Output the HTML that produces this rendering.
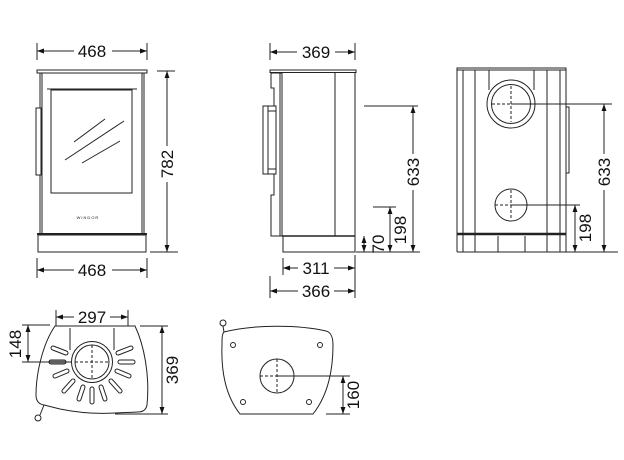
<!DOCTYPE html>
<html><head><meta charset="utf-8"><style>
html,body{margin:0;padding:0;background:#fff;}
svg{display:block;}
text{font-family:"Liberation Sans",sans-serif;font-size:17px;fill:#111;}
</style></head><body>
<svg width="624" height="460" viewBox="0 0 624 460" xmlns="http://www.w3.org/2000/svg">
<defs>
<marker id="a" viewBox="0 0 10 10" refX="10" refY="5" markerWidth="7" markerHeight="7" orient="auto-start-reverse" markerUnits="userSpaceOnUse"><path d="M0,1.5 L10,5 L0,8.5 z" fill="#111"/></marker>
</defs>
<g stroke="#222" stroke-width="1" fill="none">
<!-- FRONT VIEW -->
<line x1="37" y1="43" x2="37" y2="60"/><line x1="147" y1="43" x2="147" y2="60"/>
<line x1="37" y1="51" x2="74" y2="51" marker-start="url(#a)"/><line x1="112" y1="51" x2="147" y2="51" marker-end="url(#a)"/>
<rect x="37" y="70" width="110" height="3"/>
<line x1="40" y1="73" x2="40" y2="234"/><line x1="42" y1="73" x2="42" y2="234"/>
<line x1="144" y1="73" x2="144" y2="234"/><line x1="142" y1="73" x2="142" y2="234"/>
<rect x="36" y="108" width="5" height="67" fill="#fff"/>
<line x1="47" y1="89" x2="137" y2="89"/>
<rect x="51" y="90" width="81" height="103"/>
<line x1="74" y1="142" x2="105" y2="119"/><line x1="65" y1="160" x2="124" y2="121"/><line x1="82" y1="163" x2="120" y2="141"/>
<line x1="37" y1="234" x2="147" y2="234" stroke-width="2"/>
<rect x="38" y="235" width="108" height="17"/>
<line x1="157" y1="71" x2="175" y2="71"/><line x1="150" y1="252" x2="178" y2="252"/>
<line x1="167" y1="71" x2="167" y2="146" marker-start="url(#a)"/><line x1="167" y1="182" x2="167" y2="252" marker-end="url(#a)"/>
<line x1="37" y1="258" x2="37" y2="278"/><line x1="147" y1="258" x2="147" y2="278"/>
<line x1="37" y1="270" x2="74" y2="270" marker-start="url(#a)"/><line x1="112" y1="270" x2="147" y2="270" marker-end="url(#a)"/>

<!-- SIDE VIEW -->
<line x1="270" y1="43" x2="270" y2="60"/><line x1="355" y1="43" x2="355" y2="60"/>
<line x1="270" y1="52" x2="297" y2="52" marker-start="url(#a)"/><line x1="335" y1="52" x2="355" y2="52" marker-end="url(#a)"/>
<rect x="270" y="70" width="86" height="2.5"/>
<path d="M282,73 L271,73 L271,88 L274,88 L274,195 L271,195 L271,236 L282,236"/>
<line x1="280" y1="73" x2="280" y2="236"/><line x1="282" y1="73" x2="282" y2="236"/>
<rect x="263" y="106" width="13" height="68" fill="#fff"/><line x1="268" y1="106" x2="268" y2="174"/>
<line x1="268" y1="111" x2="276" y2="111"/><line x1="268" y1="169" x2="276" y2="169"/>
<line x1="355" y1="72" x2="355" y2="236"/><line x1="335" y1="72" x2="335" y2="236"/>
<line x1="282" y1="236" x2="355" y2="236" stroke-width="1.5"/>
<rect x="283" y="236" width="72" height="16"/>
<line x1="364" y1="106" x2="418" y2="106"/>
<line x1="413" y1="106" x2="413" y2="154" marker-start="url(#a)"/><line x1="413" y1="190" x2="413" y2="252" marker-end="url(#a)"/>
<line x1="373" y1="207" x2="396" y2="207"/>
<line x1="390" y1="207" x2="390" y2="252" marker-start="url(#a)" marker-end="url(#a)"/>
<line x1="364" y1="236" x2="364" y2="252" marker-start="url(#a)" marker-end="url(#a)"/>
<line x1="356" y1="252" x2="420" y2="252"/>
<line x1="283" y1="258" x2="283" y2="275"/><line x1="355" y1="255" x2="355" y2="298"/>
<line x1="283" y1="268" x2="298" y2="268" marker-start="url(#a)"/><line x1="334" y1="268" x2="355" y2="268" marker-end="url(#a)"/>
<line x1="270" y1="276" x2="270" y2="298"/>
<line x1="270" y1="291" x2="298" y2="291" marker-start="url(#a)"/><line x1="334" y1="291" x2="355" y2="291" marker-end="url(#a)"/>

<!-- BACK VIEW -->
<rect x="457" y="68" width="109" height="2"/>
<line x1="457" y1="70" x2="457" y2="252"/><line x1="566" y1="70" x2="566" y2="252"/>
<line x1="463" y1="70" x2="463" y2="252"/><line x1="475" y1="70" x2="475" y2="252"/>
<line x1="547" y1="70" x2="547" y2="252"/><line x1="560" y1="70" x2="560" y2="252"/>
<line x1="489" y1="70" x2="489" y2="90"/><line x1="534" y1="70" x2="534" y2="90"/>
<circle cx="511" cy="104" r="24" fill="#fff"/><circle cx="511" cy="104" r="19.5"/>
<circle cx="511" cy="205" r="16" fill="#fff"/>
<line x1="457" y1="234" x2="566" y2="234" stroke-width="2.5"/>
<line x1="457" y1="252" x2="566" y2="252"/>
<line x1="498" y1="236" x2="498" y2="252"/><line x1="525" y1="236" x2="525" y2="252"/>
<rect x="566" y="107" width="3" height="66" fill="#fff"/>
<g stroke-dasharray="3,2"><line x1="492" y1="104" x2="511" y2="104"/><line x1="511" y1="86" x2="511" y2="122"/><line x1="495" y1="205" x2="511" y2="205"/><line x1="511" y1="190" x2="511" y2="220"/></g>
<line x1="511" y1="104" x2="612" y2="104"/><line x1="511" y1="205" x2="580" y2="205"/>
<line x1="604" y1="104" x2="604" y2="154" marker-start="url(#a)"/><line x1="604" y1="190" x2="604" y2="252" marker-end="url(#a)"/>
<line x1="575" y1="205" x2="575" y2="252" marker-start="url(#a)" marker-end="url(#a)"/>
<line x1="566" y1="252" x2="618" y2="252"/>

<!-- PLAN LEFT -->
<line x1="56" y1="310" x2="56" y2="326"/><line x1="128" y1="310" x2="128" y2="326"/>
<line x1="56" y1="317" x2="74" y2="317" marker-start="url(#a)"/><line x1="110" y1="317" x2="128" y2="317" marker-end="url(#a)"/>
<path d="M55,326 L135,326 C144,345 150,375 147,405 C146,410 143,412 138,412 L115,413 C100,414 80,413 60,409 L44,405 C38,404 36,400 36,395 C36,375 42,345 55,326 Z"/>
<path d="M44,405 L40,415"/><circle cx="38" cy="418" r="3"/>
<line x1="70" y1="328" x2="70" y2="350"/><line x1="114" y1="328" x2="114" y2="350"/>
<circle cx="92" cy="362" r="20.5"/><circle cx="92" cy="362" r="17"/>
<g stroke-dasharray="3,2"><line x1="75" y1="362" x2="109" y2="362"/><line x1="92" y1="345" x2="92" y2="379"/></g>
<g stroke-linecap="round">
<g stroke="#222" stroke-width="5">
<line x1="118" y1="353" x2="131" y2="348"/><line x1="120" y1="362" x2="133" y2="362"/><line x1="117" y1="371" x2="129" y2="376"/><line x1="111" y1="381" x2="120" y2="391"/><line x1="101" y1="387" x2="105" y2="399"/><line x1="92" y1="389" x2="92" y2="402"/><line x1="83" y1="387" x2="79" y2="399"/><line x1="73" y1="381" x2="64" y2="391"/><line x1="67" y1="371" x2="55" y2="376"/><line x1="64" y1="362" x2="51" y2="362"/><line x1="66" y1="353" x2="53" y2="348"/>
</g>
<g stroke="#fff" stroke-width="3">
<line x1="118" y1="353" x2="131" y2="348"/><line x1="120" y1="362" x2="133" y2="362"/><line x1="117" y1="371" x2="129" y2="376"/><line x1="111" y1="381" x2="120" y2="391"/><line x1="101" y1="387" x2="105" y2="399"/><line x1="92" y1="389" x2="92" y2="402"/><line x1="83" y1="387" x2="79" y2="399"/><line x1="73" y1="381" x2="64" y2="391"/><line x1="67" y1="371" x2="55" y2="376"/><line x1="66" y1="353" x2="53" y2="348"/>
</g>
<line x1="64" y1="362" x2="51" y2="362" stroke="#999" stroke-width="3"/>
</g>
<line x1="22" y1="325" x2="50" y2="325"/><line x1="22" y1="362" x2="72" y2="362"/>
<line x1="28" y1="325" x2="28" y2="362" marker-start="url(#a)" marker-end="url(#a)"/>
<line x1="140" y1="326" x2="168" y2="326"/><line x1="115" y1="414" x2="168" y2="414"/>
<line x1="162" y1="326" x2="162" y2="414" marker-start="url(#a)" marker-end="url(#a)"/>

<!-- PLAN MIDDLE -->
<path d="M224,332 C255,324 300,325 326,331 C331,332 333,338 333,345 C333,370 328,395 313,414 L240,414 C225,395 221,370 222,345 C222,338 222,334 224,332 Z"/>
<line x1="224" y1="332" x2="223" y2="326"/><circle cx="223" cy="323" r="3"/>
<circle cx="233" cy="345" r="2.5"/><circle cx="320" cy="345" r="2.5"/><circle cx="243" cy="402" r="2.5"/><circle cx="309" cy="402" r="2.5"/>
<circle cx="277" cy="376" r="17"/>
<g stroke-dasharray="3,2"><line x1="260" y1="376" x2="277" y2="376"/><line x1="277" y1="359" x2="277" y2="393"/></g>
<line x1="277" y1="376" x2="350" y2="376"/><line x1="326" y1="414" x2="350" y2="414"/>
<line x1="343" y1="376" x2="343" y2="414" marker-start="url(#a)" marker-end="url(#a)"/>
</g>
<g>
<text x="92" y="57" text-anchor="middle">468</text>
<text x="92" y="276" text-anchor="middle">468</text>
<text transform="translate(173,164) rotate(-90)" text-anchor="middle">782</text>
<text x="88" y="219" text-anchor="middle" style="font-size:4px;letter-spacing:1px">WINDOR</text>
<text x="316" y="58" text-anchor="middle">369</text>
<text x="316" y="274" text-anchor="middle">311</text>
<text x="316" y="297" text-anchor="middle">366</text>
<text transform="translate(419,172) rotate(-90)" text-anchor="middle">633</text>
<text transform="translate(406,230) rotate(-90)" text-anchor="middle">198</text>
<text transform="translate(384,244) rotate(-90)" text-anchor="middle">70</text>
<text transform="translate(610,172) rotate(-90)" text-anchor="middle">633</text>
<text transform="translate(591,228) rotate(-90)" text-anchor="middle">198</text>
<text x="92" y="323" text-anchor="middle">297</text>
<text transform="translate(21,344) rotate(-90)" text-anchor="middle">148</text>
<text transform="translate(178,370) rotate(-90)" text-anchor="middle">369</text>
<text transform="translate(359,395) rotate(-90)" text-anchor="middle">160</text>
</g>
</svg>
</body></html>
